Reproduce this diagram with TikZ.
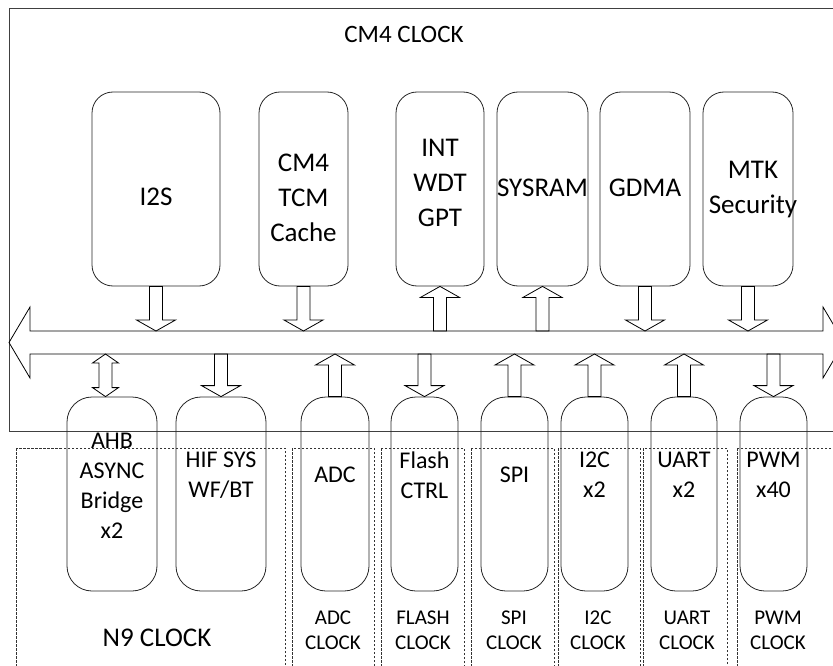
\documentclass[tikz,border=0pt]{standalone}
\usepackage{fontspec}
\setmainfont{Carlito}
\usetikzlibrary{calc}

\tikzset{
  ipbox/.style={draw=black!85, rounded corners=21pt, inner sep=0pt, align=center, minimum height=194pt},
  topbox/.style={ipbox, minimum width=#1},
  toptxt/.style={font=\fontsize{27}{35}\selectfont, align=center},
  lowbox/.style={ipbox, rounded corners=25pt, minimum width=#1},
  lowtxt/.style={font=\fontsize{24}{30}\selectfont, align=center},
  clk/.style={font=\fontsize{21}{25}\selectfont, align=center},
  clkzone/.style={draw=black!80, line width=0.6pt, dash pattern=on 2.5pt off 1.5pt},
  fatarrow/.style={to path={let \p1=($(\tikztotarget)!11pt!(\tikztostart)$) in
    ($(\tikztostart)!6.5pt!-90:(\tikztotarget)$) -- ($(\p1)!6.5pt!90:(\tikztostart)$)
    -- ($(\p1)!19.5pt!90:(\tikztostart)$) -- (\tikztotarget)
    -- ($(\p1)!19.5pt!-90:(\tikztostart)$) -- ($(\p1)!6.5pt!-90:(\tikztostart)$)
    -- ($(\tikztostart)!6.5pt!90:(\tikztotarget)$) -- cycle}},
  dblarrow/.style={to path={let \p1=($(\tikztostart)!9pt!(\tikztotarget)$),
    \p2=($(\tikztotarget)!9pt!(\tikztostart)$) in
    (\tikztostart) -- ($(\p1)!13pt!-90:(\tikztotarget)$) -- ($(\p1)!6.5pt!-90:(\tikztotarget)$)
    -- ($(\p2)!6.5pt!90:(\tikztostart)$) -- ($(\p2)!13pt!90:(\tikztostart)$) -- (\tikztotarget)
    -- ($(\p2)!13pt!-90:(\tikztostart)$) -- ($(\p2)!6.5pt!-90:(\tikztostart)$)
    -- ($(\p1)!6.5pt!90:(\tikztotarget)$) -- ($(\p1)!13pt!90:(\tikztotarget)$) -- cycle}}
}

\begin{document}
\begin{tikzpicture}[x=1pt, y=-1pt, line width=0.8pt]
    \useasboundingbox (0,0) rectangle (833,666);
    \clip (0,0) rectangle (833,666);

    % clock domains
    \draw[black!75] (9,8) rectangle (850,431);
    \node[font=\fontsize{25}{30}\selectfont] (cm4clk) at (404,34) {CM4 CLOCK};
    \draw[clkzone] (16,448) rectangle (285,680);
    \draw[clkzone] (292,448) rectangle (374,680);
    \draw[clkzone] (381,448) rectangle (464,680);
    \draw[clkzone] (471,448) rectangle (554,680);
    \draw[clkzone] (558,448) rectangle (640,680);
    \draw[clkzone] (643,448) rectangle (727,680);
    \draw[clkzone] (737,448) rectangle (850,680);
    \node[font=\fontsize{27}{32}\selectfont] (n9clk) at (157,638) {N9 CLOCK};
    \node[clk] (adcclk) at (333,630) {ADC\\CLOCK};
    \node[clk] (flashclk) at (423,630) {FLASH\\CLOCK};
    \node[clk] (spiclk) at (514,630) {SPI\\CLOCK};
    \node[clk] (i2cclk) at (598,630) {I2C\\CLOCK};
    \node[clk] (uartclk) at (687,630) {UART\\CLOCK};
    \node[clk] (pwmclk) at (778,630) {PWM\\CLOCK};

    % bus
    \coordinate (bustop) at (0,331);
    \coordinate (busbot) at (0,354);
    \draw (9,342.5) -- (30,307) -- (30,331) -- (823,331) -- (823,307) -- (844,342.5)
      -- (823,378) -- (823,354) -- (30,354) -- (30,378) -- cycle;

    % CM4 side
    \node[topbox=128pt, label={[toptxt, yshift=-8pt]center:I2S}] (i2s) at (156,189) {};
    \node[topbox=89pt, label={[toptxt, yshift=-9pt]center:CM4\\TCM\\Cache}] (tcm) at (303.5,189) {};
    \node[topbox=88pt, label={[toptxt, yshift=6pt]center:INT\\WDT\\GPT}] (int) at (440,189) {};
    \node[topbox=91pt, label={[toptxt, yshift=1pt]center:SYSRAM}] (sysram) at (542.5,189) {};
    \node[topbox=90pt, label={[toptxt, yshift=1pt]center:GDMA}] (gdma) at (645,189) {};
    \node[topbox=90pt, label={[toptxt, xshift=5pt, yshift=-1pt]center:MTK\\Security}] (mtk) at (748,189) {};

    % peripherals
    \node[lowbox=90pt, label={[lowtxt, yshift=8pt]center:AHB\\ASYNC\\Bridge\\x2}] (ahb) at (112,494) {};
    \node[lowbox=90pt, label={[lowtxt, yshift=19pt]center:HIF SYS\\WF/BT}] (hif) at (221,494) {};
    \node[lowbox=68pt, label={[lowtxt, yshift=19pt]center:ADC}] (adc) at (335,494) {};
    \node[lowbox=67pt, label={[lowtxt, yshift=19pt]center:Flash\\CTRL}] (flash) at (424.5,494) {};
    \node[lowbox=67pt, label={[lowtxt, yshift=19pt]center:SPI}] (spi) at (514.5,494) {};
    \node[lowbox=67pt, label={[lowtxt, yshift=19pt]center:I2C\\x2}] (i2c) at (594.5,494) {};
    \node[lowbox=66pt, label={[lowtxt, yshift=19pt]center:UART\\x2}] (uart) at (684,494) {};
    \node[lowbox=67pt, label={[lowtxt, yshift=19pt]center:PWM\\x40}] (pwm) at (773.5,494) {};

    % bus ports
    \foreach \m in {i2s,tcm,gdma,mtk}
        \draw[fatarrow] (\m.south) to (\m.south |- bustop);
    \foreach \m in {int,sysram}
        \draw[fatarrow] (\m.south |- bustop) to (\m.south);
    \foreach \m in {hif,flash,pwm}
        \draw[fatarrow] (\m.north |- busbot) to (\m.north);
    \foreach \m in {adc,spi,i2c,uart}
        \draw[fatarrow] (\m.north) to (\m.north |- busbot);
    \coordinate (ahbport) at ([xshift=-6.5pt]ahb.north);
    \draw[dblarrow] (ahbport) to (ahbport |- busbot);
\end{tikzpicture}
\end{document}
